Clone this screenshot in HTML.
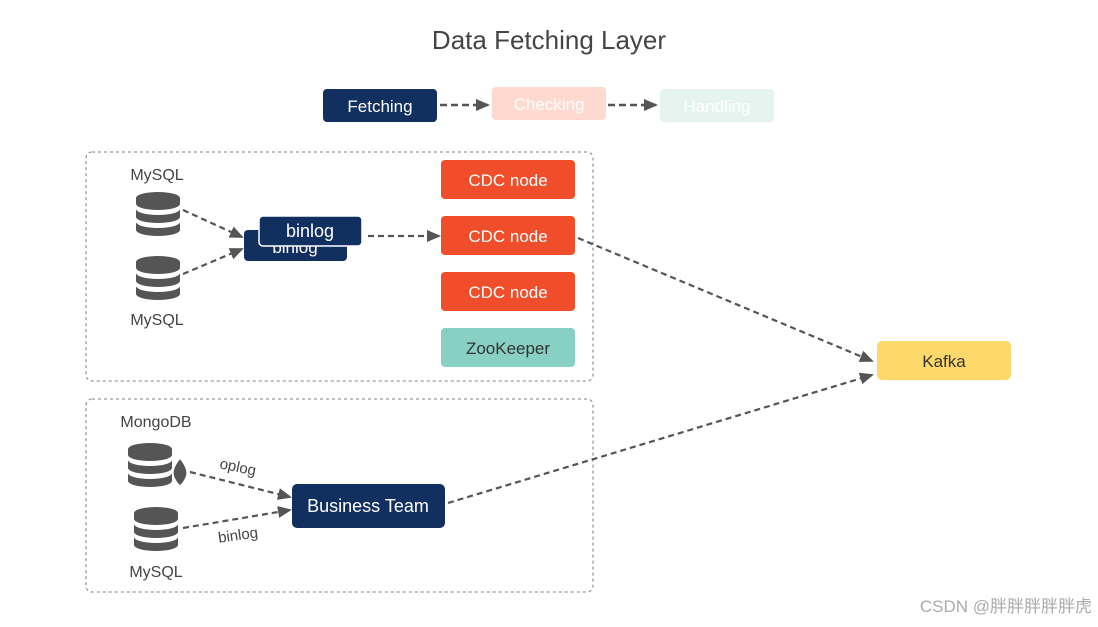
<!DOCTYPE html>
<html><head><meta charset="utf-8"><style>
body{margin:0;background:#fff;width:1098px;height:622px;overflow:hidden;font-family:"Liberation Sans",sans-serif;}
</style></head><body>
<svg width="1098" height="622" xmlns="http://www.w3.org/2000/svg" font-family="Liberation Sans, sans-serif">
<defs>
<marker id="a" markerWidth="14" markerHeight="12" refX="12" refY="6" orient="auto" markerUnits="userSpaceOnUse"><path d="M0,0 L14,6 L0,12 z" fill="#555"/></marker>
<g id="db">
<path d="M0,6 a22,6 0 0 1 44,0 v6 a22,6 0 0 1 -44,0 z" fill="#555"/>
<path d="M0,17 a22,6 0 0 0 44,0 v8 a22,6 0 0 1 -44,0 z" fill="#555"/>
<path d="M0,30 a22,6 0 0 0 44,0 v8 a22,6 0 0 1 -44,0 z" fill="#555"/>
</g>
</defs>
<text x="549" y="49" text-anchor="middle" font-size="26" fill="#444">Data Fetching Layer</text>
<rect x="323" y="89" width="114" height="33" rx="4" fill="#12305f"/>
<text x="380" y="112" text-anchor="middle" font-size="17" fill="#fff">Fetching</text>
<rect x="492" y="87" width="114" height="33" rx="4" fill="#fdd9d0"/>
<text x="549" y="110" text-anchor="middle" font-size="17" fill="#fff">Checking</text>
<rect x="660" y="89" width="114" height="33" rx="4" fill="#e6f4f0"/>
<text x="717" y="112" text-anchor="middle" font-size="17" fill="#fff">Handling</text>
<g stroke="#555" stroke-width="2.5" stroke-dasharray="7,4" fill="none">
<line x1="440" y1="105" x2="488" y2="105" marker-end="url(#a)"/>
<line x1="608" y1="105" x2="656" y2="105" marker-end="url(#a)"/>
</g>
<rect x="86" y="152" width="507" height="229" rx="6" fill="none" stroke="#999" stroke-width="1.3" stroke-dasharray="3,3"/>
<rect x="86" y="399" width="507" height="193" rx="6" fill="none" stroke="#999" stroke-width="1.3" stroke-dasharray="3,3"/>
<text x="157" y="180" text-anchor="middle" font-size="16" fill="#444">MySQL</text>
<use href="#db" x="136" y="192"/>
<use href="#db" x="136" y="256"/>
<text x="157" y="325" text-anchor="middle" font-size="16" fill="#444">MySQL</text>
<rect x="244" y="230" width="103" height="31" rx="4" fill="#12305f"/>
<text x="295" y="253" text-anchor="middle" font-size="17" fill="#fff">binlog</text>
<rect x="259" y="216" width="103" height="30" rx="4" fill="#12305f" stroke="#fff" stroke-width="1.5"/>
<text x="310" y="237" text-anchor="middle" font-size="18" fill="#fff">binlog</text>
<g fill="#f04e2b">
<rect x="441" y="160" width="134" height="39" rx="4"/>
<rect x="441" y="216" width="134" height="39" rx="4"/>
<rect x="441" y="272" width="134" height="39" rx="4"/>
</g>
<rect x="441" y="328" width="134" height="39" rx="4" fill="#88d0c4"/>
<g font-size="17" text-anchor="middle" fill="#fff">
<text x="508" y="186">CDC node</text><text x="508" y="242">CDC node</text><text x="508" y="298">CDC node</text>
</g>
<text x="508" y="354" text-anchor="middle" font-size="17" fill="#333">ZooKeeper</text>
<rect x="877" y="341" width="134" height="39" rx="5" fill="#fdd96b"/>
<text x="944" y="367" text-anchor="middle" font-size="17" fill="#333">Kafka</text>
<text x="156" y="427" text-anchor="middle" font-size="16" fill="#444">MongoDB</text>
<use href="#db" x="128" y="443"/>
<path d="M180,458 q-10,12 -6,20 q3,6 6,8 q3,-2 6,-8 q4,-8 -6,-20z" fill="#555" stroke="#fff" stroke-width="1.5"/>
<use href="#db" x="134" y="507"/>
<text x="156" y="577" text-anchor="middle" font-size="16" fill="#444">MySQL</text>
<rect x="292" y="484" width="153" height="44" rx="5" fill="#12305f"/>
<text x="368" y="512" text-anchor="middle" font-size="18" fill="#fff">Business Team</text>
<text x="238" y="472" text-anchor="middle" font-size="15" fill="#444" transform="rotate(12 238 467)">oplog</text>
<text x="238" y="540" text-anchor="middle" font-size="15" fill="#444" transform="rotate(-8 238 535)">binlog</text>
<g stroke="#555" stroke-width="2.2" stroke-dasharray="6,4" fill="none">
<line x1="183" y1="210" x2="242" y2="237" marker-end="url(#a)"/>
<line x1="183" y1="274" x2="242" y2="249" marker-end="url(#a)"/>
<line x1="368" y1="236" x2="439" y2="236" marker-end="url(#a)"/>
<line x1="578" y1="238" x2="872" y2="361" marker-end="url(#a)"/>
<line x1="448" y1="503" x2="872" y2="375" marker-end="url(#a)"/>
<line x1="190" y1="472" x2="290" y2="497" marker-end="url(#a)"/>
<line x1="183" y1="528" x2="290" y2="510" marker-end="url(#a)"/>
</g>
<text x="1092" y="612" text-anchor="end" font-size="17" fill="#aaa" font-family="Liberation Sans, Noto Sans CJK SC, sans-serif">CSDN @胖胖胖胖胖虎</text>
</svg>
</body></html>
